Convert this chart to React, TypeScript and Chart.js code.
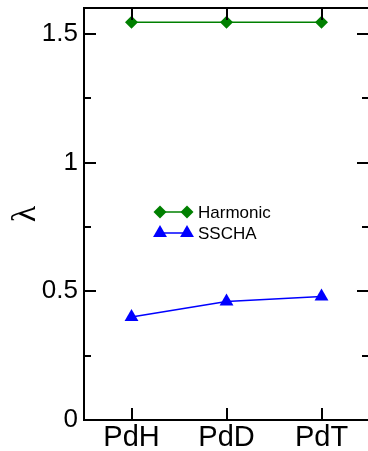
import React, { useEffect, useRef } from 'react';
import { Chart, registerables } from 'chart.js';

Chart.register(...registerables);

const categories = ['PdH', 'PdD', 'PdT'];
const harmonic = [1.545, 1.545, 1.545];
const sscha = [0.40, 0.46, 0.48];
const yMajorTicks = [0, 0.5, 1, 1.5];
const yMinorTicks = [0.25, 0.75, 1.25];
const yMin = 0;
const yMax = 1.6;
const seriesNames = ['Harmonic', 'SSCHA'];

const GREEN = '#008000';
const BLUE = '#0000ff';

const framePlugin = {
  id: 'frameTicks',
  afterDraw(chart: any) {
    const { ctx, chartArea } = chart;
    const { left, right, top, bottom } = chartArea;
    const ys = chart.scales.y;
    const xs = chart.scales.x;
    ctx.save();
    ctx.strokeStyle = '#000';
    ctx.lineWidth = 2;
    ctx.beginPath();
    ctx.moveTo(left, top);
    ctx.lineTo(right, top);
    ctx.moveTo(left, bottom);
    ctx.lineTo(right, bottom);
    ctx.moveTo(left, top - 1);
    ctx.lineTo(left, bottom + 1);
    ctx.moveTo(right, top - 1);
    ctx.lineTo(right, bottom + 1);
    for (const v of yMajorTicks) {
      const p = Math.round(ys.getPixelForValue(v));
      ctx.moveTo(left, p);
      ctx.lineTo(left + 12, p);
      ctx.moveTo(right, p);
      ctx.lineTo(right - 12, p);
    }
    for (const v of yMinorTicks) {
      const p = Math.round(ys.getPixelForValue(v));
      ctx.moveTo(left, p);
      ctx.lineTo(left + 7, p);
      ctx.moveTo(right, p);
      ctx.lineTo(right - 7, p);
    }
    categories.forEach((_, i) => {
      const p = Math.round(xs.getPixelForValue(i));
      ctx.moveTo(p, bottom);
      ctx.lineTo(p, bottom - 12);
      ctx.moveTo(p, top);
      ctx.lineTo(p, top + 12);
    });
    ctx.stroke();
    ctx.restore();
  },
};

function drawMarker(ctx: CanvasRenderingContext2D, style: string, x: number, y: number, r: number) {
  ctx.beginPath();
  if (style === 'rectRot') {
    ctx.moveTo(x, y - r);
    ctx.lineTo(x + r, y);
    ctx.lineTo(x, y + r);
    ctx.lineTo(x - r, y);
  } else {
    ctx.moveTo(x, y - r);
    ctx.lineTo(x + r * 0.866, y + r / 2);
    ctx.lineTo(x - r * 0.866, y + r / 2);
  }
  ctx.closePath();
  ctx.fill();
}

const legendPlugin = {
  id: 'innerLegend',
  afterDatasetsDraw(chart: any) {
    const { ctx, chartArea } = chart;
    const x0 = chartArea.left + 76;
    const x1 = chartArea.left + 103;
    const tx = chartArea.left + 114;
    const rows = [chartArea.top + 204, chartArea.top + 225];
    chart.data.datasets.forEach((ds: any, i: number) => {
      const y = rows[i];
      ctx.save();
      ctx.strokeStyle = ds.borderColor;
      ctx.lineWidth = ds.borderWidth;
      ctx.beginPath();
      ctx.moveTo(x0, y);
      ctx.lineTo(x1, y);
      ctx.stroke();
      ctx.fillStyle = ds.pointBackgroundColor;
      drawMarker(ctx, ds.pointStyle, x0, y, ds.pointRadius);
      drawMarker(ctx, ds.pointStyle, x1, y, ds.pointRadius);
      ctx.fillStyle = '#000';
      ctx.font = '17px "Liberation Sans", Arial, sans-serif';
      ctx.textBaseline = 'middle';
      ctx.textAlign = 'left';
      ctx.fillText(seriesNames[i], tx, y + 1);
      ctx.restore();
    });
  },
};

const zeroPad = (s: any) => {
  s.paddingTop = 0;
  s.paddingBottom = 0;
  s.paddingLeft = 0;
  s.paddingRight = 0;
};

export default function App() {
  const ref = useRef<HTMLCanvasElement | null>(null);
  useEffect(() => {
    if (!ref.current) return;
    const chart = new Chart(ref.current, {
      type: 'line',
      data: {
        labels: categories,
        datasets: [
          {
            label: seriesNames[0],
            data: harmonic,
            borderColor: GREEN,
            backgroundColor: GREEN,
            pointBackgroundColor: GREEN,
            pointBorderColor: GREEN,
            borderWidth: 1.5,
            pointStyle: 'rectRot',
            pointRadius: 6.5,
            pointBorderWidth: 0,
          },
          {
            label: seriesNames[1],
            data: sscha,
            borderColor: BLUE,
            backgroundColor: BLUE,
            pointBackgroundColor: BLUE,
            pointBorderColor: BLUE,
            borderWidth: 1.5,
            pointStyle: 'triangle',
            pointRadius: 8,
            pointBorderWidth: 0,
          },
        ],
      },
      options: {
        animation: false,
        responsive: false,
        maintainAspectRatio: false,
        layout: { padding: { top: 8, left: 0, right: 2, bottom: 0 } },
        plugins: { legend: { display: false }, tooltip: { enabled: false } },
        scales: {
          x: {
            type: 'category',
            offset: true,
            grid: { display: false, drawTicks: false },
            border: { display: false },
            ticks: {
              color: '#000',
              padding: 1,
              maxRotation: 0,
              font: { size: 29, family: '"Liberation Sans", Arial, sans-serif' },
            },
            afterFit: (s: any) => {
              s.height = 31;
              zeroPad(s);
            },
          },
          y: {
            min: yMin,
            max: yMax,
            grid: { display: false, drawTicks: false },
            border: { display: false },
            afterBuildTicks: (s: any) => {
              s.ticks = yMajorTicks.map((v) => ({ value: v }));
            },
            ticks: {
              color: '#000',
              padding: 6,
              font: { size: 26, family: '"Liberation Sans", Arial, sans-serif' },
              callback: (v: any) => String(v),
            },
            title: {
              display: true,
              text: 'λ',
              color: '#000',
              padding: { top: 6, bottom: 0 },
              font: { size: 34, family: '"Liberation Serif", "Times New Roman", serif' },
            },
            afterFit: (s: any) => {
              s.width = 84;
              zeroPad(s);
            },
          },
        },
      },
      plugins: [framePlugin, legendPlugin],
    });
    return () => chart.destroy();
  }, []);
  return (
    <div style={{ position: 'absolute', left: 0, top: 0, width: 368, height: 451, overflow: 'hidden', background: '#fff' }}>
      <canvas ref={ref} width={377} height={451} style={{ display: 'block', width: 377, height: 451 }} />
    </div>
  );
}
